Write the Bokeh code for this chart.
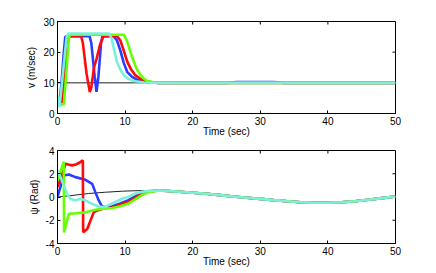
from bokeh.plotting import figure
from bokeh.layouts import column
from bokeh.models import Range1d, FixedTicker
from bokeh.embed import file_html
from bokeh.resources import INLINE

# ---------------- data: top panel, speed v (m/sec) ----------------
x_ticks = [0, 10, 20, 30, 40, 50]
v_ticks = [0, 10, 20, 30]
psi_ticks = [-4, -2, 0, 2, 4]

v_ref_t = [0, 50]
v_ref = [10, 10]

v_blue_t = [0, 0.25, 0.6, 0.9, 1.15, 1.35, 4.75, 5.0, 5.5, 5.77, 6.05, 6.45, 6.65,
            8.3, 8.8, 9.3, 9.8, 10.3, 11.0, 11.8, 12.7, 14, 15, 25, 26.5, 29, 32, 33.5, 50]
v_blue = [4.5, 2.6, 10, 19, 25, 25.2, 25.2, 23, 12, 7.1, 12, 23, 25.2,
          25.2, 23.8, 20.5, 16.5, 13.6, 12.0, 11.0, 10.4, 10.1, 10, 10, 10.25, 10.25, 10.25, 10, 10]

v_red_t = [0, 0.6, 1.0, 1.5, 1.7, 3.5, 3.75, 4.3, 4.78, 5.0, 5.4, 5.8, 6.3, 6.8,
           8.8, 9.3, 9.8, 10.3, 10.8, 11.5, 12.3, 13.3, 15, 50]
v_red = [3, 3, 12, 24.5, 25.2, 25.2, 23, 13, 7.0, 8.5, 15, 18, 22.5, 25.2,
         25.2, 23.8, 20.5, 17, 14.7, 12.5, 11.2, 10.3, 10, 10]

v_green_t = [0, 0.3, 0.95, 1.7, 1.95, 9.8, 10.3, 10.8, 11.3, 11.8, 12.3, 12.8, 13.3, 14.2, 15.5, 50]
v_green = [4, 3, 3, 25.0, 25.7, 25.7, 23.5, 20, 16.8, 14.2, 12.5, 11.3, 10.6, 10.2, 10, 10]

v_cyan_t = [0, 0.3, 1.35, 1.6, 7.6, 8.0, 8.4, 8.8, 9.3, 9.8, 10.5, 11.3, 12.8, 15, 50]
v_cyan = [5.9, 2.1, 25, 26.1, 26.1, 24.5, 20.5, 16.8, 14.3, 12.5, 11.3, 10.6, 10.1, 10, 10]

# ---------------- data: bottom panel, heading psi (Rad) ----------------
psi_tail_t = [15, 17, 20, 22, 24, 26, 28, 30, 32, 34, 36, 38, 40, 42, 44, 46, 48, 50]
psi_tail = [0.56, 0.5, 0.37, 0.28, 0.16, 0.04, -0.06, -0.16, -0.27, -0.36, -0.45, -0.5,
            -0.49, -0.45, -0.36, -0.24, -0.1, 0.04]

psi_ref_t = [0, 2, 4.6, 7.1, 9.6, 12] + psi_tail_t
psi_ref = [0, 0.12, 0.3, 0.41, 0.5, 0.55] + psi_tail

psi_blue_t = [0, 0.5, 0.93, 1.67, 2.66, 4.14, 5.13, 5.6, 6.1, 6.6, 7.1, 8.1, 9.3, 10.5, 11.5, 12.5, 13.5] + psi_tail_t
psi_blue = [0, 1.0, 1.85, 1.94, 1.71, 1.48, 1.13, 0.42, -0.3, -0.82, -0.88, -0.8, -0.55, -0.27, 0.05, 0.36, 0.5] + psi_tail

psi_red_t = [0, 0.5, 1.18, 1.6, 2.17, 2.7, 3.16, 3.75, 3.8, 4.4, 4.9, 5.37, 6.0, 7.1, 8.1, 9.3, 10.5, 11.5, 12.5, 13.5] + psi_tail_t
psi_red = [0.85, 1.6, 2.86, 2.8, 2.72, 2.8, 2.92, 3.15, -3.03, -2.75, -2.0, -1.3, -1.15, -0.95, -0.9, -0.65, -0.41, -0.08, 0.3, 0.48] + psi_tail

psi_green_t = [0, 0.93, 0.97, 1.67, 2.66, 4.14, 5.6, 7.1, 8.1, 9.3, 10.5, 11.5, 12.5, 13.5] + psi_tail_t
psi_green = [1.4, 3.05, -3.05, -1.45, -1.4, -1.32, -1.1, -0.98, -0.95, -0.8, -0.56, -0.2, 0.16, 0.42] + psi_tail

psi_cyan_t = [0, 0.44, 0.93, 1.43, 1.92, 2.66, 3.4, 4.14, 5.13, 6.1, 6.85, 8.1, 9.6, 10.5, 11.5, 12.5, 13.5] + psi_tail_t
psi_cyan = [2.28, 1.71, 1.0, 0.27, -0.16, -0.3, -0.16, -0.3, -0.59, -0.82, -0.88, -0.56, -0.13, 0.01, 0.3, 0.44, 0.53] + psi_tail

BLUE = "#2a3cff"
RED = "#ff0a0a"
GREEN = "#64ff00"
CYAN = "#7af0dc"
FONT = "Liberation Sans"
FW, FH1, FH2 = 338, 92, 93
TICK = 3  # px


def make(ymin, ymax, yticks, ylabel, fh, top, bottom):
    p = figure(frame_width=FW, frame_height=fh, output_backend="svg", toolbar_location=None,
               x_range=Range1d(0, 50), y_range=Range1d(ymin, ymax),
               min_border_left=57, min_border_right=36, min_border_top=top,
               min_border_bottom=bottom)
    p.xaxis.ticker = FixedTicker(ticks=x_ticks)
    p.yaxis.ticker = FixedTicker(ticks=yticks)
    p.yaxis.major_label_overrides = {t: str(t) for t in yticks}
    for ax in p.axis:
        ax.major_tick_in = TICK
        ax.major_tick_out = 0
        ax.minor_tick_line_color = None
        ax.axis_line_color = "black"
        ax.major_tick_line_color = "black"
        ax.major_label_text_font = FONT
        ax.major_label_text_font_size = "10px"
        ax.major_label_text_color = "black"
        ax.axis_label_text_font = FONT
        ax.axis_label_text_font_size = "10px"
        ax.axis_label_text_font_style = "normal"
        ax.axis_label_text_color = "black"
    p.xaxis.major_label_standoff = 3
    p.xaxis.axis_label_standoff = -2
    p.yaxis.major_label_standoff = 3
    p.yaxis.axis_label_standoff = 3
    p.xaxis.axis_label = "Time (sec)"
    p.yaxis.axis_label = ylabel
    p.xgrid.grid_line_color = None
    p.ygrid.grid_line_color = None
    p.outline_line_color = "black"
    p.outline_line_alpha = 1
    p.background_fill_color = "white"
    p.border_fill_color = "white"
    # MATLAB-style inward ticks on the top and right edges of the box
    dy = (ymax - ymin) * TICK / fh
    dx = 50 * TICK / FW
    p.segment(x0=x_ticks, y0=[ymax] * len(x_ticks), x1=x_ticks,
              y1=[ymax - dy] * len(x_ticks), line_color="black", line_width=1)
    p.segment(x0=[50] * len(yticks), y0=yticks, x1=[50 - dx] * len(yticks),
              y1=yticks, line_color="black", line_width=1)
    return p


p1 = make(0, 30, v_ticks, "v (m/sec)", FH1, 21, 24)
p1.line(v_ref_t, v_ref, line_color="#222222", line_width=1)
p1.line(v_blue_t, v_blue, line_color=BLUE, line_width=2.6)
p1.line(v_red_t, v_red, line_color=RED, line_width=2.6)
p1.line(v_green_t, v_green, line_color=GREEN, line_width=2.6)
p1.line(v_cyan_t, v_cyan, line_color=CYAN, line_width=2.6)

p2 = make(-4, 4, psi_ticks, "ψ (Rad)", FH2, 11, 24)
p2.line(psi_ref_t, psi_ref, line_color="#222222", line_width=1)
p2.line(psi_blue_t, psi_blue, line_color=BLUE, line_width=2.6)
p2.line(psi_red_t, psi_red, line_color=RED, line_width=2.6)
p2.line(psi_green_t, psi_green, line_color=GREEN, line_width=2.6)
p2.line(psi_cyan_t, psi_cyan, line_color=CYAN, line_width=2.6)

layout = column(p1, p2)
open("out.html", "w").write(file_html(layout, INLINE))
